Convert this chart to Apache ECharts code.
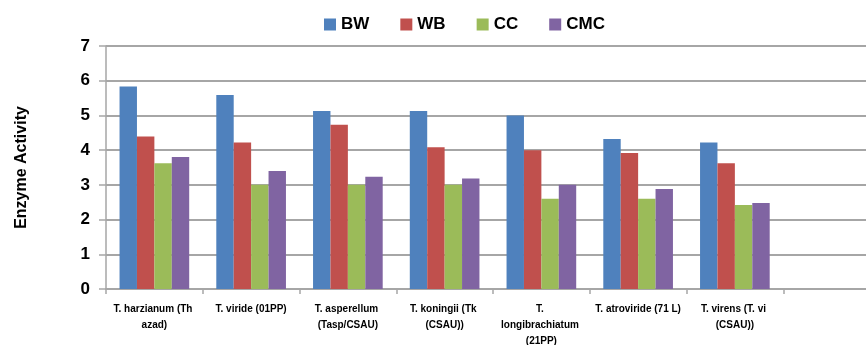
<!DOCTYPE html>
<html>
<head>
<meta charset="utf-8">
<script src="https://cdn.jsdelivr.net/npm/echarts@6/dist/echarts.min.js"></script>
<style>
  html, body { margin: 0; padding: 0; background: #fff; overflow: hidden; }
  /* the plot area runs a little past the right edge of the page */
  #chart { width: 880px; height: 345px; }
</style>
</head>
<body>
<div id="chart"></div>
<script>
// Trichoderma isolates (last slot left empty, as in the worksheet range)
const isolates = [
  'T. harzianum (Th azad)',
  'T. viride (01PP)',
  'T. asperellum (Tasp/CSAU)',
  'T. koningii (Tk (CSAU))',
  'T. longibrachiatum (21PP)',
  'T. atroviride (71 L)',
  'T. virens (T. vi (CSAU))',
  ''
];
const seriesNames = ['BW', 'WB', 'CC', 'CMC'];
const bwValues  = [5.83, 5.59, 5.13, 5.13, 5.00, 4.32, 4.22];
const wbValues  = [4.39, 4.22, 4.73, 4.08, 4.00, 3.92, 3.62];
const ccValues  = [3.62, 3.00, 3.00, 3.00, 2.60, 2.60, 2.42];
const cmcValues = [3.80, 3.40, 3.23, 3.18, 3.00, 2.88, 2.48];
const yTicks = [0, 1, 2, 3, 4, 5, 6, 7];

const palette = ['#4F81BD', '#C0504D', '#9BBB59', '#8064A2'];
const narrow = '"Liberation Sans Narrow", "Arial Narrow", "Liberation Sans", Arial, sans-serif';
const valueSets = [bwValues, wbValues, ccValues, cmcValues];

const chart = echarts.init(document.getElementById('chart'), null, { renderer: 'canvas' });
chart.setOption({
  animation: false,
  color: palette,
  legend: {
    top: 11,
    left: 319,
    itemWidth: 12,
    itemHeight: 12,
    itemGap: 31,
    icon: 'rect',
    textStyle: { fontFamily: narrow, fontWeight: 'bold', fontSize: 17, color: '#000' },
    data: seriesNames
  },
  grid: { left: 106, right: 0, top: 46, bottom: 56, containLabel: false, outerBoundsMode: 'none' },
  xAxis: {
    type: 'category',
    data: isolates,
    axisLine: { lineStyle: { color: '#a6a6a6', width: 2 } },
    axisTick: { show: true, length: 5, lineStyle: { color: '#a6a6a6', width: 1.5 } },
    axisLabel: {
      interval: 0,
      margin: 12,
      width: 88,
      overflow: 'break',
      lineHeight: 16,
      fontFamily: narrow,
      fontWeight: 'bold',
      fontSize: 10,
      color: '#000'
    },
    splitLine: { show: false }
  },
  yAxis: {
    type: 'value',
    min: yTicks[0],
    max: yTicks[yTicks.length - 1],
    interval: 1,
    name: 'Enzyme Activity',
    nameLocation: 'middle',
    nameRotate: 90,
    nameGap: 76,
    nameTextStyle: { fontFamily: narrow, fontWeight: 'bold', fontSize: 16, color: '#000' },
    axisLine: { show: true, lineStyle: { color: '#a6a6a6', width: 1.5 } },
    axisTick: { show: true, length: 7, lineStyle: { color: '#a6a6a6', width: 1.5 } },
    axisLabel: { margin: 16, fontFamily: narrow, fontWeight: 'bold', fontSize: 17, color: '#000' },
    splitLine: { show: true, lineStyle: { color: '#a6a6a6', width: 2 } }
  },
  series: seriesNames.map((name, i) => ({
    name,
    type: 'bar',
    data: valueSets[i],
    barGap: '0%',
    barCategoryGap: '28%',
    itemStyle: { color: palette[i] }
  }))
});
</script>
</body>
</html>
